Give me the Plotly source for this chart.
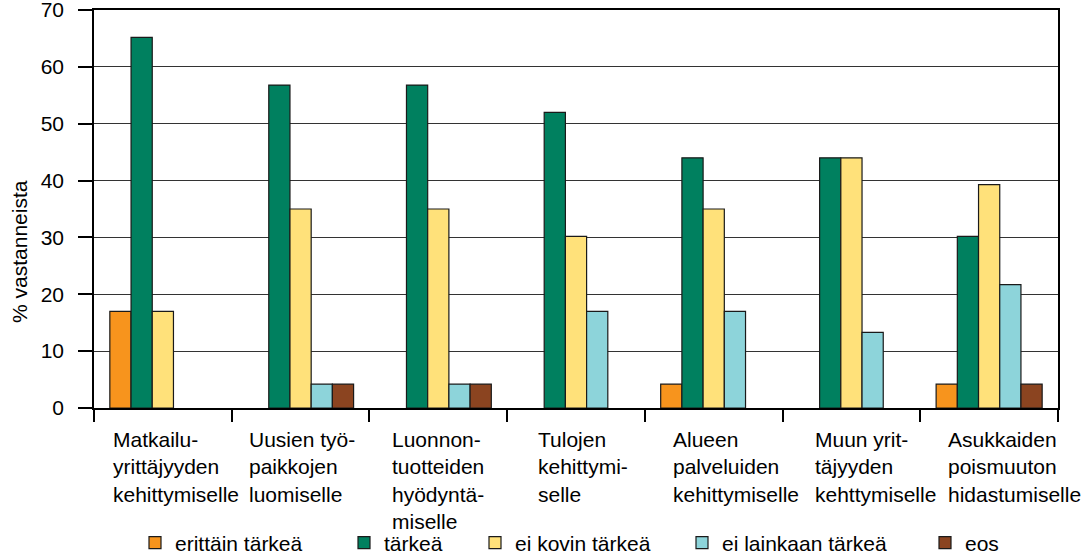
import plotly.graph_objects as go

categories = [
    "Matkailu-<br>yrittäjyyden<br>kehittymiselle",
    "Uusien työ-<br>paikkojen<br>luomiselle",
    "Luonnon-<br>tuotteiden<br>hyödyntä-<br>miselle",
    "Tulojen<br>kehittymi-<br>selle",
    "Alueen<br>palveluiden<br>kehittymiselle",
    "Muun yrit-<br>täjyyden<br>kehttymiselle",
    "Asukkaiden<br>poismuuton<br>hidastumiselle",
]
series_names = ["erittäin tärkeä", "tärkeä", "ei kovin tärkeä", "ei lainkaan tärkeä", "eos"]
erittain_tarkea = [17.0, None, None, None, 4.2, None, 4.2]
tarkea = [65.2, 56.8, 56.8, 52.0, 44.0, 44.0, 30.2]
ei_kovin_tarkea = [17.0, 35.0, 35.0, 30.2, 35.0, 44.0, 39.3]
ei_lainkaan_tarkea = [None, 4.2, 4.2, 17.0, 17.0, 13.3, 21.7]
eos = [None, 4.2, 4.2, None, None, None, 4.2]
y_title = "% vastanneista"
y_ticks = [0, 10, 20, 30, 40, 50, 60, 70]

series_values = [erittain_tarkea, tarkea, ei_kovin_tarkea, ei_lainkaan_tarkea, eos]
colors = ["#F7941D", "#00805F", "#FFE17A", "#8DD4DA", "#8B4420"]

FONT = "Liberation Sans, Arial, sans-serif"
L, R, T, B = 94, 28, 10, 149
W, H = 1086, 557
pw, ph = W - L - R, H - T - B

# legend square left edges (px) for each entry
legend_px = [149, 358, 489, 696, 939]
legend_keys = ["legend", "legend2", "legend3", "legend4", "legend5"]

fig = go.Figure()
xs = list(range(len(categories)))
for name, vals, col, lk in zip(series_names, series_values, colors, legend_keys):
    fig.add_trace(go.Bar(
        x=xs, y=vals, name=name, legend=lk, showlegend=True,
        marker=dict(color=col, line=dict(color="#1a1a1a", width=1.2)),
    ))

legend_layout = {}
for lk, px in zip(legend_keys, legend_px):
    legend_layout[lk] = dict(
        x=(px - 14 - L) / pw, xanchor="left",
        y=-(543 - (T + ph)) / ph, yanchor="middle",
        orientation="h", font=dict(family=FONT, size=21, color="#000"),
        bgcolor="rgba(0,0,0,0)", borderwidth=0,
    )

label_xshift = [-52, -54, -48, -40, -43, -38, -43]
annotations = []
for i, (lab, sh) in enumerate(zip(categories, label_xshift)):
    annotations.append(dict(
        x=i, xref="x", y=0, yref="paper", text=lab, showarrow=False,
        xanchor="left", yanchor="top", align="left", xshift=sh, yshift=-18,
        font=dict(family=FONT, size=21, color="#000"),
    ))
annotations.append(dict(
    x=(19 - L) / pw, xref="paper", y=((T + ph) - 252) / ph, yref="paper",
    text=y_title, textangle=-90, showarrow=False, xanchor="center", yanchor="middle",
    font=dict(family=FONT, size=21, color="#000"),
))

fig.update_layout(
    width=W, height=H,
    margin=dict(l=L, r=R, t=T, b=B, autoexpand=False),
    paper_bgcolor="white", plot_bgcolor="white",
    showlegend=True,
    barmode="group", bargap=0.23, bargroupgap=0,
    font=dict(family=FONT, size=21, color="#000"),
    annotations=annotations,
    **legend_layout,
)
fig.update_xaxes(
    type="linear", range=[-0.5, len(categories) - 0.5],
    tickvals=[i - 0.5 for i in range(len(categories) + 1)],
    showticklabels=False, ticks="outside", ticklen=12, tickcolor="#000", tickwidth=1.5,
    showline=True, linecolor="#000", linewidth=1.5, mirror=True, showgrid=False, zeroline=False,
    automargin=False,
)
fig.update_yaxes(
    range=[0, 70], tickvals=y_ticks, ticks="outside", ticklen=14, tickcolor="#000", tickwidth=1.5,
    ticklabelstandoff=10, ticklabeloverflow="allow",
    showline=True, linecolor="#000", linewidth=1.5, mirror=True,
    showgrid=True, gridcolor="#333", gridwidth=1, zeroline=False,
    tickfont=dict(family=FONT, size=21, color="#000"),
    automargin=False,
)
fig.write_html(
    "out.html",
    config={"displayModeBar": False},
    post_script="document.body.style.margin='0';document.body.style.overflow='hidden';",
)
